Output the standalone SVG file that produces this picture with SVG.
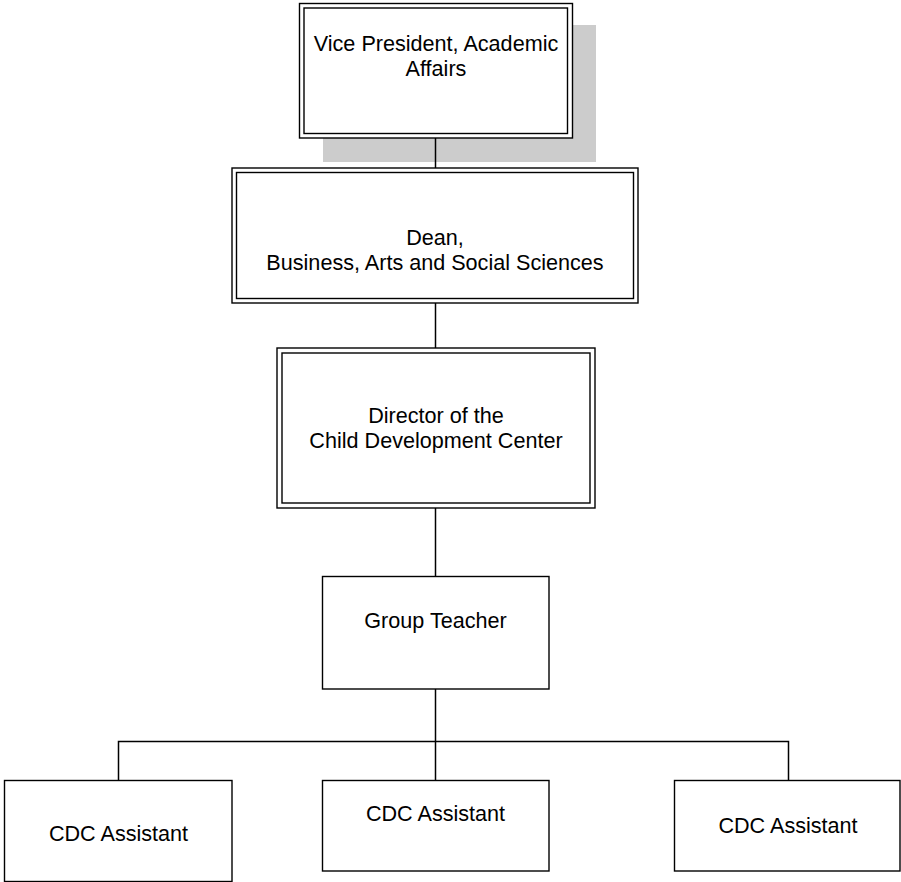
<svg xmlns="http://www.w3.org/2000/svg" width="901" height="882" viewBox="0 0 901 882">
<style>
.box{fill:#fff;stroke:#000;stroke-width:1.4}
.inner{fill:none;stroke:#000;stroke-width:1.4}
.shadow{fill:#cccccc;stroke:none}
.conn{fill:none;stroke:#000;stroke-width:1.5}
text{font-family:"Liberation Sans",Arial,sans-serif;font-size:21.6px;fill:#000;text-anchor:middle}
</style>
<rect width="901" height="882" fill="#fff"/>
<g id="node-vp">
<rect class="shadow" x="323" y="25" width="273" height="137"/>
<rect class="box" x="299.5" y="3.5" width="273" height="134.5"/>
<rect class="inner" x="304" y="8" width="263.5" height="125.5"/>
<text x="436" y="51">Vice President, Academic</text>
<text x="436" y="76">Affairs</text>
</g>
<g id="connectors">
<line class="conn" x1="435.5" y1="138" x2="435.5" y2="168"/>
<line class="conn" x1="435.5" y1="303" x2="435.5" y2="348"/>
<line class="conn" x1="435.5" y1="508" x2="435.5" y2="576"/>
<line class="conn" x1="435.5" y1="689" x2="435.5" y2="780"/>
<polyline class="conn" points="118.5,780 118.5,741.5 788.5,741.5 788.5,780"/>
</g>
<g id="node-dean">
<rect class="box" x="232" y="168" width="406" height="135"/>
<rect class="inner" x="236.5" y="172.5" width="397" height="126"/>
<text x="435" y="245">Dean,</text>
<text x="435" y="270">Business, Arts and Social Sciences</text>
</g>
<g id="node-director">
<rect class="box" x="277" y="348" width="318" height="160"/>
<rect class="inner" x="282" y="353" width="308" height="150"/>
<text x="436" y="423">Director of the</text>
<text x="436" y="448">Child Development Center</text>
</g>
<g id="node-teacher">
<rect class="box" x="322.5" y="576.5" width="226.5" height="112.5"/>
<text x="435.5" y="628">Group Teacher</text>
</g>
<g id="node-assistant-1">
<rect class="box" x="4.5" y="780.5" width="227.5" height="101"/>
<text x="118.5" y="841">CDC Assistant</text>
</g>
<g id="node-assistant-2">
<rect class="box" x="322.5" y="780.5" width="226.5" height="90.5"/>
<text x="435.5" y="821">CDC Assistant</text>
</g>
<g id="node-assistant-3">
<rect class="box" x="674.5" y="780.5" width="225.5" height="90.5"/>
<text x="788" y="833">CDC Assistant</text>
</g>
</svg>
